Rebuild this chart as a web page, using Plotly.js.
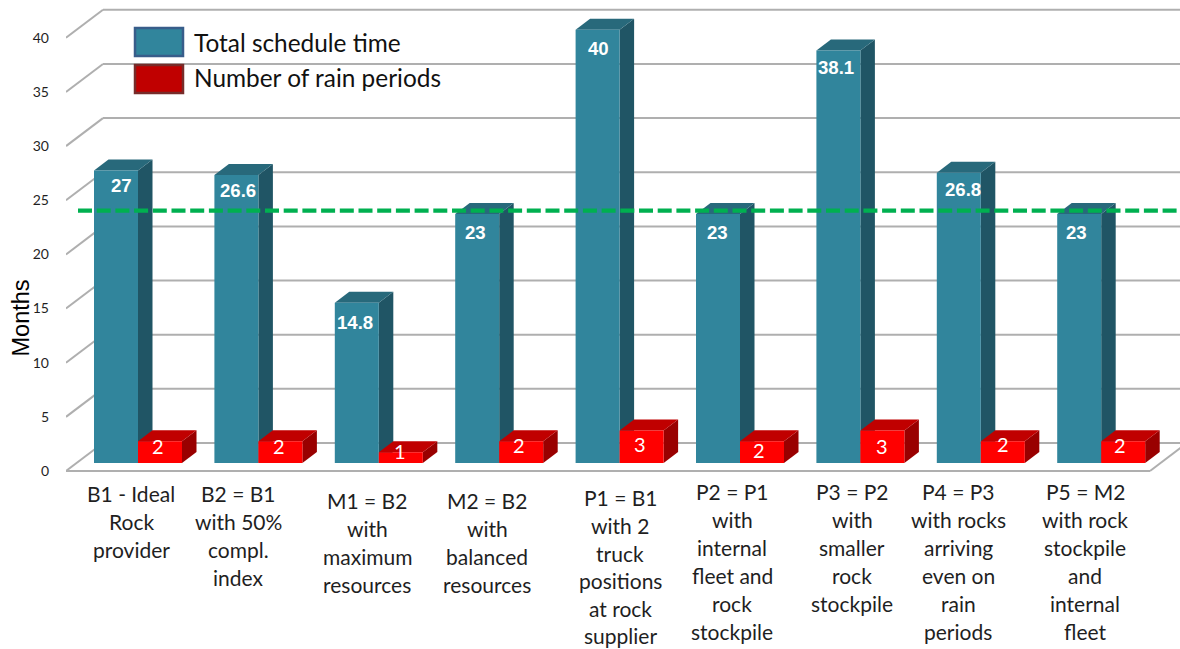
<!DOCTYPE html>
<html>
<head>
<meta charset="utf-8">
<script src="https://cdn.plot.ly/plotly-3.0.1.min.js"></script>
<style>html,body{margin:0;padding:0;background:#fff}#chart{width:1180px;height:649px}</style>
</head>
<body>
<div id="chart"></div>
<script>
// ---- data ----
const categoryLines = [
  ["B1 - Ideal","Rock","provider"],
  ["B2 = B1","with 50%","compl.","index"],
  ["M1 = B2","with","maximum","resources"],
  ["M2 = B2","with","balanced","resources"],
  ["P1 = B1","with 2","truck","positions","at rock","supplier"],
  ["P2 = P1","with","internal","fleet and","rock","stockpile"],
  ["P3 = P2","with","smaller","rock","stockpile"],
  ["P4 = P3","with rocks","arriving","even on","rain","periods"],
  ["P5 = M2","with rock","stockpile","and","internal","fleet"]
];
const scheduleTime = [27, 26.6, 14.8, 23, 40, 23, 38.1, 26.8, 23];
const rainPeriods  = [2, 2, 1, 2, 3, 2, 3, 2, 2];
const referenceLine = 23.3;
const yTicks = [0,5,10,15,20,25,30,35,40];
const seriesNames = ["Total schedule time","Number of rain periods"];

// ---- layout constants (pixels of the 1180x649 page) ----
const L=66, W=1180, PLOT_BOTTOM=473, ZERO_PX=471;
const PX_PER_UNIT=10.83, PX_PER_CAT=120.4, CAT0_PX=138;
const barW=44/PX_PER_CAT, depthX=14.5/PX_PER_CAT, depthY=11/PX_PER_UNIT;
const base=8/PX_PER_UNIT;
const wallX=37/PX_PER_CAT, wallY=28/PX_PER_UNIT;
const toCat=p=>(p-CAT0_PX)/PX_PER_CAT;
const paperX=p=>(p-L)/(W-L);
const paperY=p=>1-p/PLOT_BOTTOM;

const labelCenterPx=[131,238,367,487,620,732,852,958,1085];
const labelFirstPx=[493,493,500,500,498,491,491,491,491];
const labelStepPx=[28,28,28,28,27.5,28,28,28,28];
const blueLabelShift=[[5,-15],[2,-16],[-2,-20],[-2,-19],[1,-19],[-1,-19],[-2,-17],[4,-17],[-3,-19]];
const redLabelPx=[[158,446],[279,446],[400,451],[519,445],[640,444],[759,450],[882,446],[1003,444],[1120,445]];

const BLUE="#31859c", BLUE_SIDE="#205565", BLUE_TOP="#28697b";
const RED="#ff0000", RED_SIDE="#990000", RED_TOP="#c00000";
const GRID="#afafaf", TXT="#1f1f1f", FONT="Lato, sans-serif";

// ---- shapes ----
const shapes=[];
const poly=(pts,fill)=>shapes.push({type:"path",xref:"x",yref:"y",layer:"below",
  path:"M"+pts.map(p=>p[0]+" "+p[1]).join(" L")+" Z",fillcolor:fill,line:{width:0}});
const seg=(x0,y0,x1,y1)=>shapes.push({type:"line",xref:"x",yref:"y",layer:"below",x0,y0,x1,y1,line:{color:GRID,width:2}});

yTicks.forEach(t=>{
  seg(toCat(L),t,toCat(L)+wallX,t+wallY);
  seg(toCat(L)+wallX,t+wallY,toCat(W)+0.1,t+wallY);
});
seg(toCat(L),0,toCat(1150),0);
seg(toCat(1150),0,toCat(1150)+wallX,wallY);

function faces(i,v,left,sideCol,topCol){
  const top=base+v, r=left+barW;
  poly([[r,base],[r+depthX,base+depthY],[r+depthX,top+depthY],[r,top]],sideCol);
  poly([[left,top],[r,top],[r+depthX,top+depthY],[left+depthX,top+depthY]],topCol);
}
scheduleTime.forEach((v,i)=>faces(i,v,i-barW,BLUE_SIDE,BLUE_TOP));
rainPeriods.forEach((v,i)=>faces(i,v,i,RED_SIDE,RED_TOP));

// legend swatches
const swatch=(x0,y0,x1,y1,fill,line)=>shapes.push({type:"rect",xref:"paper",yref:"paper",layer:"above",
  x0:paperX(x0),x1:paperX(x1),y0:paperY(y0),y1:paperY(y1),fillcolor:fill,line:{color:line,width:2.5}});
swatch(135,28,183,56,BLUE,"#385d8a");
swatch(135,65,183,93,"#c00000","#772c2a");

// ---- annotations ----
const annotations=[];
categoryLines.forEach((lines,i)=>lines.forEach((t,k)=>annotations.push({
  xref:"paper",yref:"paper",x:paperX(labelCenterPx[i]),y:paperY(labelFirstPx[i]+k*labelStepPx[i]),
  text:t,showarrow:false,xanchor:"center",yanchor:"middle",font:{family:FONT,size:21,color:TXT}
})));
scheduleTime.forEach((v,i)=>annotations.push({
  xref:"x",yref:"y",x:i-barW/2,y:base+v,xshift:blueLabelShift[i][0],yshift:blueLabelShift[i][1],
  text:String(v),showarrow:false,xanchor:"center",yanchor:"middle",
  font:{family:"'Liberation Sans', Arial, sans-serif",size:18.6,color:"#ffffff",weight:700}
}));
rainPeriods.forEach((v,i)=>annotations.push({
  xref:"paper",yref:"paper",x:paperX(redLabelPx[i][0]),y:paperY(redLabelPx[i][1]),
  text:String(v),showarrow:false,xanchor:"center",yanchor:"middle",font:{family:FONT,size:20,color:"#ffffff"}
}));
annotations.push({xref:"paper",yref:"paper",x:paperX(191.5),y:paperY(42),text:seriesNames[0],showarrow:false,
  xanchor:"left",yanchor:"middle",font:{family:FONT,size:24.4,color:"#111"}});
annotations.push({xref:"paper",yref:"paper",x:paperX(191.5),y:paperY(77),text:seriesNames[1],showarrow:false,
  xanchor:"left",yanchor:"middle",font:{family:FONT,size:24.4,color:"#111"}});
annotations.push({xref:"paper",yref:"paper",x:paperX(20),y:paperY(317.5),text:"Months",showarrow:false,textangle:-90,
  xanchor:"center",yanchor:"middle",font:{family:"'Liberation Sans', Arial, sans-serif",size:23.5,color:"#000"}});

// ---- traces ----
const xs=scheduleTime.map((_,i)=>i);
const traces=[
  {type:"bar",name:seriesNames[0],x:xs,y:scheduleTime,base:base,offset:-barW,width:barW,marker:{color:BLUE,line:{width:0}},hoverinfo:"skip"},
  {type:"bar",name:seriesNames[1],x:xs,y:rainPeriods,base:base,offset:0,width:barW,marker:{color:RED,line:{width:0}},hoverinfo:"skip"},
  {type:"scatter",mode:"lines",name:"Reference",x:[toCat(78),toCat(W)+0.1],y:[base+referenceLine,base+referenceLine],
   line:{color:"#00b050",width:4.3,dash:"14px,4.7px"},hoverinfo:"skip"}
];

const layout={
  width:1180,height:649,margin:{l:L,r:0,t:0,b:649-PLOT_BOTTOM,pad:0},
  paper_bgcolor:"#ffffff",plot_bgcolor:"#ffffff",showlegend:false,barmode:"overlay",
  xaxis:{range:[toCat(L),toCat(W)],showgrid:false,zeroline:false,showline:false,showticklabels:false,ticks:"",fixedrange:true},
  yaxis:{range:[-(PLOT_BOTTOM-ZERO_PX)/PX_PER_UNIT,ZERO_PX/PX_PER_UNIT],tickmode:"array",tickvals:yTicks,ticktext:yTicks.map(String),
    showgrid:false,zeroline:false,showline:false,ticks:"",ticklabelstandoff:16,tickfont:{family:FONT,size:14,color:TXT},fixedrange:true},
  shapes,annotations
};
Plotly.newPlot("chart",traces,layout,{displayModeBar:false,staticPlot:true});
</script>
</body>
</html>
